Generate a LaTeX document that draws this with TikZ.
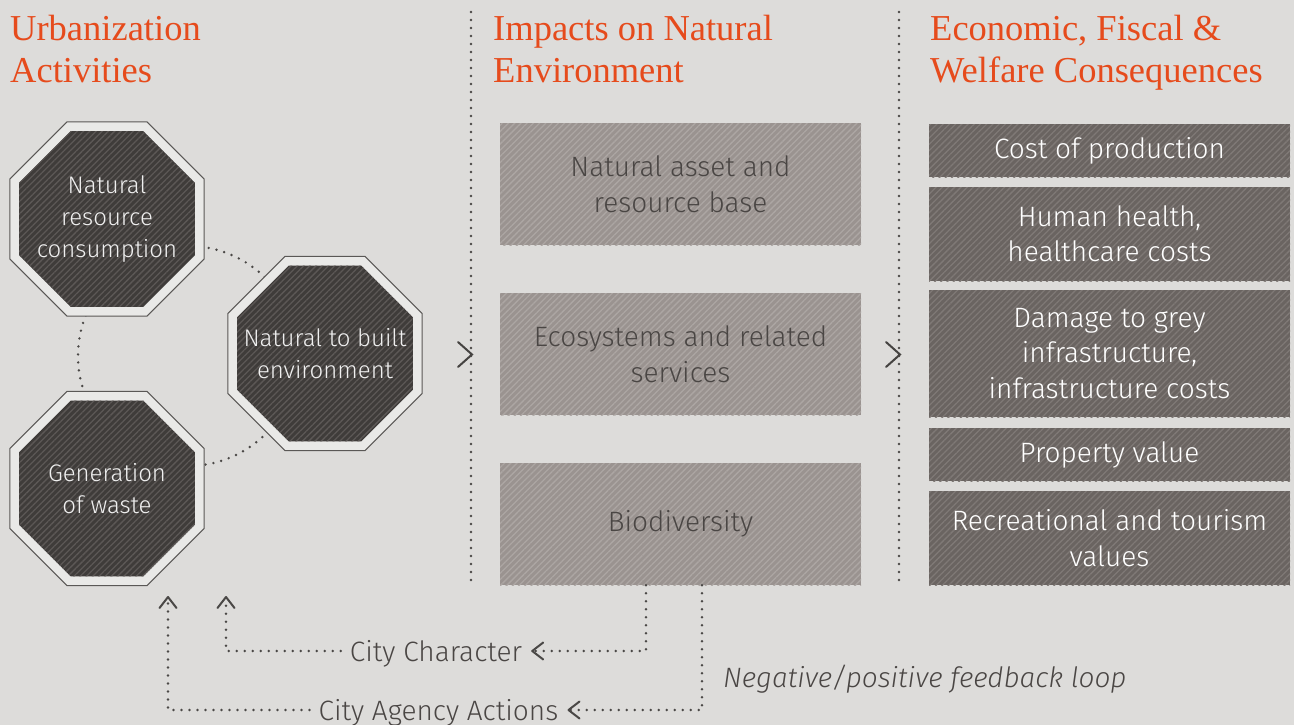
\documentclass[tikz,border=0pt]{standalone}
\usepackage{fontspec}
\setmainfont{Fira Sans Light}[ItalicFont={Fira Sans Light Italic}]
\newfontfamily\headf{Liberation Serif}
\usetikzlibrary{patterns.meta,arrows.meta,calc}
\definecolor{bg}{HTML}{DDDCDA}
\definecolor{headc}{HTML}{E64B1C}
\definecolor{dotc}{HTML}{4A4846}
\definecolor{chevc}{HTML}{454341}
\definecolor{octout}{HTML}{E9E9E7}
\definecolor{octedge}{HTML}{5A5856}
\definecolor{octbase}{HTML}{3F3C3A}
\definecolor{octline}{HTML}{5C5856}
\definecolor{midbase}{HTML}{9A9390}
\definecolor{midline}{HTML}{ACA6A3}
\definecolor{midtext}{HTML}{4A4644}
\definecolor{rbase}{HTML}{6A6461}
\definecolor{rline}{HTML}{7F7976}
\definecolor{lblc}{HTML}{4A4644}
\newcommand\octpath[2]{($(#1)+(22.5:#2)$) -- ($(#1)+(67.5:#2)$) -- ($(#1)+(112.5:#2)$) -- ($(#1)+(157.5:#2)$) -- ($(#1)+(202.5:#2)$) -- ($(#1)+(247.5:#2)$) -- ($(#1)+(292.5:#2)$) -- ($(#1)+(337.5:#2)$) -- cycle}
\tikzset{
  dotline/.style={draw=dotc, line width=2.7pt, dash pattern=on 0pt off 8pt, line cap=round},
  hatch/.style 2 args={fill=#1, postaction={pattern={Lines[angle=45,distance=4.4pt,line width=1.3pt]}, pattern color=#2}},
  midbox/.style={hatch={midbase}{midline}, minimum width=361pt, minimum height=122pt, inner sep=0pt, text=midtext, align=center, font=\fontsize{28}{36}\selectfont},
  rbox/.style={hatch={rbase}{rline}, minimum width=361pt, inner sep=0pt, text=white, align=center, font=\fontsize{28}{35.5}\selectfont},
  head/.style={text=headc, font=\headf\fontsize{36.5}{42}\selectfont, align=left, anchor=north west, inner sep=0pt},
  octfill/.style={fill=octout, draw=octedge, line width=1pt},
  octinner/.style={hatch={octbase}{octline}},
  octlabel/.style={text=white!94!black, font=\fontsize{24}{32}\selectfont, align=center, inner sep=0pt},
  lbl/.style={text=lblc, font=\fontsize{28}{34}\selectfont, text height=20pt, text depth=0pt, inner ysep=0pt, inner xsep=9pt},
  chev/.style={draw=chevc, line width=2pt, line cap=round},
  tipc/.style={-{Straight Barb[length=11pt,width=17pt,round]}, arrows={[line width=2pt]}},
}
\begin{document}
\begin{tikzpicture}[x=1pt,y=-1pt]
\useasboundingbox[fill=bg] (0,0) rectangle (1294,725);

% headings
\node[head] (h1) at (10,15) {Urbanization\\Activities};
\node[head] (h2) at (493,15) {Impacts on Natural\\Environment};
\node[head] (h3) at (930,15) {Economic, Fiscal \&\\Welfare Consequences};

% separators
\coordinate (s1a) at (471,12); \coordinate (s1b) at (471,585);
\coordinate (s2a) at (899,12); \coordinate (s2b) at (899,585);
\draw[dotline] (s1a) -- (s1b);
\draw[dotline] (s2a) -- (s2b);
\draw[chev] (458,342) -- (472,354.5) -- (458,367);
\draw[chev] (886,342) -- (900,354.5) -- (886,367);

% octagon cycle
\coordinate (c1) at (107,219);
\coordinate (c2) at (325,353.5);
\coordinate (c3) at (107,488.5);
\coordinate (ccir) at (188,356);
\draw[dotline] (ccir) circle[radius=110pt];
\foreach \c in {c1,c2,c3}{
  \path[octfill] \octpath{\c}{105pt};
  \path[octinner] \octpath{\c}{95pt};
}
\node[octlabel] (o1) at (c1) {Natural\\resource\\consumption};
\node[octlabel] (o2) at (c2) {Natural to built\\environment};
\node[octlabel] (o3) at (c3) {Generation\\of waste};

% middle column
\node[midbox] (m1) at (680.5,184) {Natural asset and\\resource base};
\node[midbox] (m2) at (680.5,354) {Ecosystems and related\\services};
\node[midbox] (m3) at (680.5,524) {Biodiversity};

% right column
\node[rbox, minimum height=53pt]  (r1) at (1109.5,150.5) {Cost of production};
\node[rbox, minimum height=94pt]  (r2) at (1109.5,234) {Human health,\\healthcare costs};
\node[rbox, minimum height=127pt] (r3) at (1109.5,353.5) {Damage to grey\\infrastructure,\\infrastructure costs};
\node[rbox, minimum height=53pt]  (r4) at (1109.5,454.5) {Property value};
\node[rbox, minimum height=94pt]  (r5) at (1109.5,538) {Recreational and tourism\\values};

% feedback loop
\node[lbl] (char) at (436,651) {City Character};
\node[lbl] (agency) at (438.5,710) {City Agency Actions};
\node[lbl, font=\itshape\fontsize{28}{34}\selectfont, anchor=west] (neg) at (714,677) {Negative/positive feedback loop};
\coordinate (up1) at (168,596);
\coordinate (up2) at (226,596);
\coordinate (d1) at ($(m3.south)+(-34.5,0)$);
\coordinate (d2) at ($(m3.south)+(21.5,0)$);
\draw[dotline, tipc] (d1) |- (char.east);
\draw[dotline, tipc] (d2) |- (agency.east);
\draw[dotline, tipc] (char.west) -| (up2);
\draw[dotline, tipc] (agency.west) -| (up1);
\end{tikzpicture}
\end{document}
